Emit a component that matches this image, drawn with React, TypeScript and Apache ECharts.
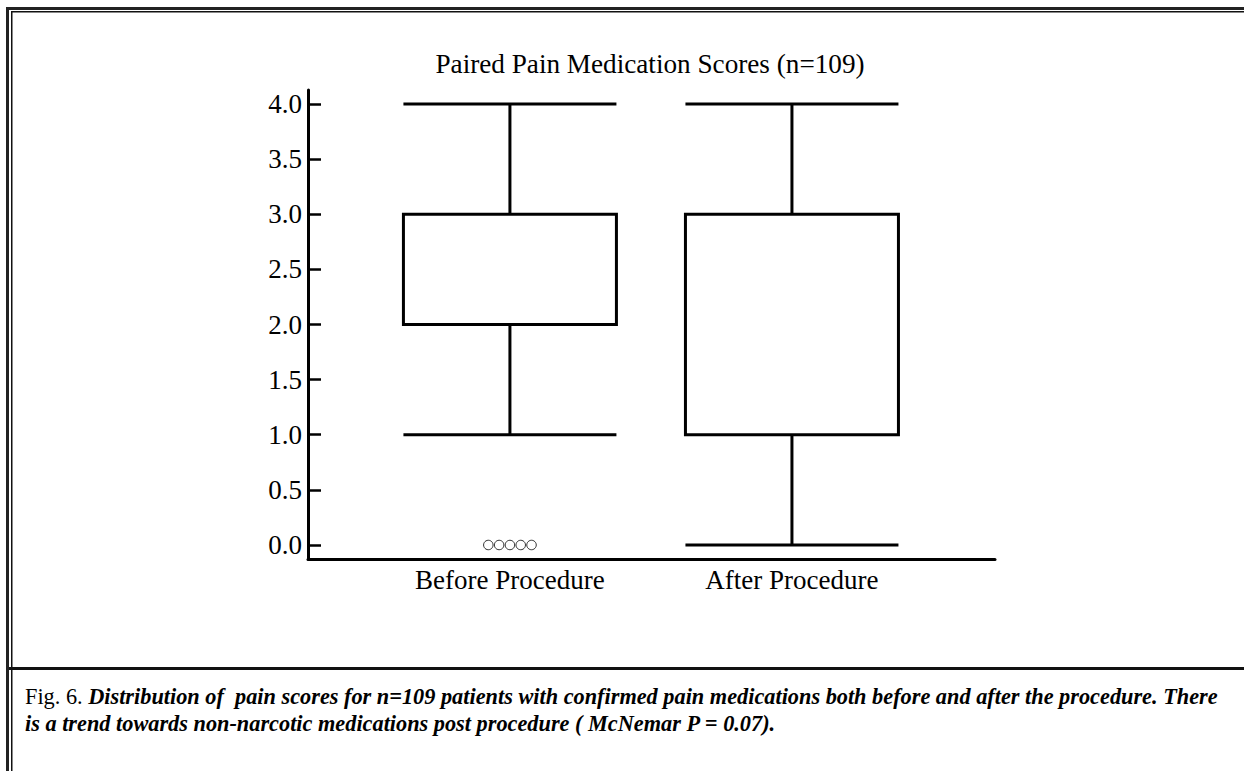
import React, { useEffect, useRef } from "react";
import * as echarts from "echarts";

// ---------- data ----------
const categories = ["Before Procedure", "After Procedure"];
const categoryPositions = [1, 2];
// [min whisker, Q1, median, Q3, max whisker]
const beforeStats = [1, 2, 2, 3, 4];
const afterStats = [0, 1, 3, 3, 4];
const beforeOutliers = [0, 0, 0, 0, 0];
const yTickValues = [0, 0.5, 1, 1.5, 2, 2.5, 3, 3.5, 4];

const titleText = "Paired Pain Medication Scores (n=109)";
const captionLabel = "Fig. 6. ";
const captionLine1 =
  "Distribution of  pain scores for n=109 patients with confirmed pain medications both before and after the procedure. There";
const captionLine2 =
  "is a trend towards non-narcotic medications post procedure ( McNemar P = 0.07).";

const SERIF = '"Liberation Serif", "Times New Roman", serif';

export default function App() {
  const ref = useRef<HTMLDivElement>(null);

  useEffect(() => {
    if (!ref.current) return;
    const chart = echarts.init(ref.current, undefined, { renderer: "svg" });

    const boxData = [
      [categoryPositions[0], ...beforeStats],
      [categoryPositions[1], ...afterStats],
    ];
    const n = beforeOutliers.length;
    const outlierData = beforeOutliers.map((v, i) => ({
      value: [categoryPositions[0], v],
      symbolOffset: [(i - (n - 1) / 2) * 10.8, 0],
    }));

    const line = (x1: number, y1: number, x2: number, y2: number, w: number, c = "#111") => ({
      type: "line",
      silent: true,
      shape: { x1, y1, x2, y2 },
      style: { stroke: c, lineWidth: w },
    });

    chart.setOption({
      animation: false,
      backgroundColor: "#ffffff",
      grid: { left: 308, right: 249, top: 90, bottom: 212, outerBoundsMode: "none" },
      xAxis: {
        type: "value",
        min: 0.284,
        max: 2.72,
        splitLine: { show: false },
        axisTick: { show: false },
        axisLine: { show: true, onZero: false, lineStyle: { color: "#000", width: 3 } },
        axisLabel: {
          customValues: categoryPositions,
          formatter: (v: number) => categories[categoryPositions.indexOf(v)] ?? "",
          color: "#000",
          fontFamily: SERIF,
          fontSize: 27,
          margin: 7,
        },
      },
      yAxis: {
        type: "value",
        min: -0.127,
        max: 4.127,
        splitLine: { show: false },
        axisLine: { show: true, onZero: false, lineStyle: { color: "#000", width: 3 } },
        axisTick: {
          show: true,
          inside: true,
          length: 13,
          customValues: yTickValues,
          lineStyle: { color: "#000", width: 2.5 },
        },
        axisLabel: {
          customValues: yTickValues,
          formatter: (v: number) => v.toFixed(1),
          color: "#000",
          fontFamily: SERIF,
          fontSize: 27,
          margin: 6,
        },
      },
      series: [
        {
          type: "boxplot",
          data: boxData,
          boxWidth: [213, 213],
          itemStyle: { color: "#ffffff", borderColor: "#000", borderWidth: 3 },
          emphasis: { disabled: true },
        },
        {
          type: "scatter",
          data: outlierData,
          symbol: "circle",
          symbolSize: 9.5,
          itemStyle: { color: "#ffffff", borderColor: "#000", borderWidth: 1 },
          emphasis: { disabled: true },
        },
      ],
      graphic: [
        // frame
        line(6, 8.5, 1244, 8.5, 3, "#222"),
        line(7.5, 7, 7.5, 771, 3, "#222"),
        line(11, 11.75, 1244, 11.75, 1.5),
        line(11.75, 11, 11.75, 771, 1.5),
        line(9, 668.5, 1244, 668.5, 3),
        {
          type: "text",
          silent: true,
          style: {
            x: 650,
            y: 64,
            text: titleText,
            fill: "#000",
            font: `27.2px ${SERIF}`,
            textAlign: "center",
            textVerticalAlign: "middle",
          },
        },
        {
          type: "text",
          silent: true,
          style: {
            x: 25,
            y: 696,
            text: `{r|${captionLabel}}{i|${captionLine1}}`,
            textVerticalAlign: "middle",
            rich: {
              r: { fontFamily: SERIF, fontSize: 22.3, fill: "#000", color: "#000" },
              i: {
                fontFamily: SERIF,
                fontSize: 22.3,
                fontStyle: "italic",
                fontWeight: "bold",
                fill: "#000",
                color: "#000",
              },
            },
          },
        },
        {
          type: "text",
          silent: true,
          style: {
            x: 25,
            y: 723,
            text: captionLine2,
            fill: "#000",
            font: `italic bold 22.3px ${SERIF}`,
            textVerticalAlign: "middle",
          },
        },
      ],
    });

    return () => chart.dispose();
  }, []);

  return (
    <div
      ref={ref}
      style={{ position: "fixed", left: 0, top: 0, width: 1244, height: 771, background: "#fff" }}
    />
  );
}
